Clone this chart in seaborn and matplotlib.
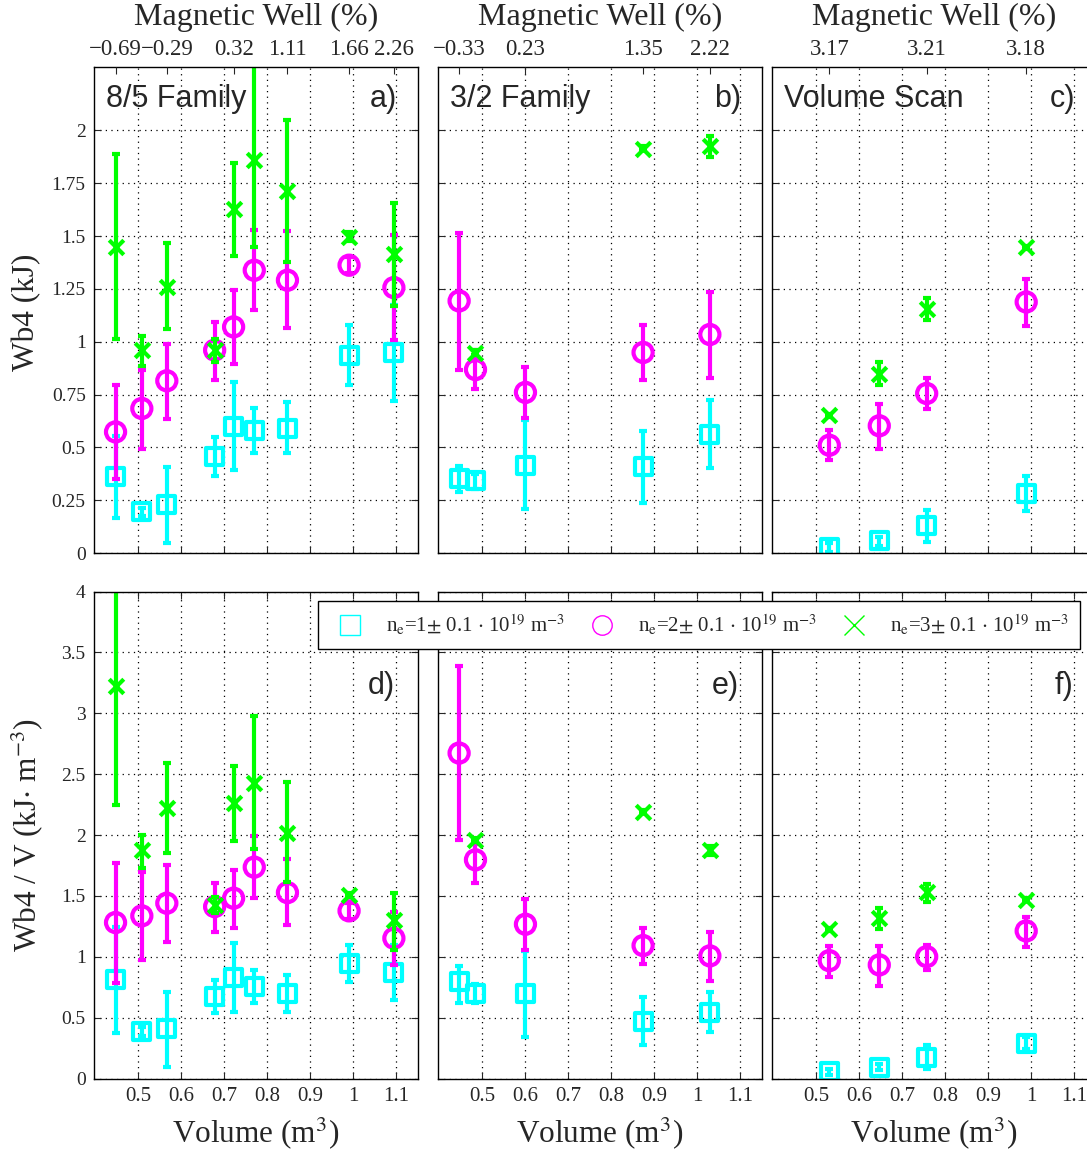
import numpy as np
import matplotlib
matplotlib.use("Agg")
import matplotlib.pyplot as plt
from matplotlib.lines import Line2D
import seaborn as sns

# ---------------- data ----------------
# plasma volumes (m^3) of each configuration
vol_85 = [0.448, 0.509, 0.567, 0.678, 0.722, 0.770, 0.847, 0.990, 1.094]
vol_32 = [0.447, 0.485, 0.601, 0.874, 1.029]
vol_scan = [0.531, 0.647, 0.757, 0.988]

# magnetic well (%) of the configurations, shown on the top axes
well_85_pos = [0.448, 0.567, 0.722, 0.847, 0.990, 1.094]
well_85_lab = ["\u22120.69", "\u22120.29", "0.32", "1.11", "1.66", "2.26"]
well_32_pos = [0.447, 0.601, 0.874, 1.029]
well_32_lab = ["\u22120.33", "0.23", "1.35", "2.22"]
well_scan_pos = [0.531, 0.757, 0.988]
well_scan_lab = ["3.17", "3.21", "3.18"]

nan = np.nan

# Wb4 (kJ): value, lower end, upper end of error bar
# 8/5 family
wb4_85_n1 = [0.360, 0.195, 0.229, 0.458, 0.597, 0.581, 0.589, 0.936, 0.947]
wb4_85_n1_lo = [0.168, 0.175, 0.048, 0.363, 0.395, 0.471, 0.471, 0.794, 0.720]
wb4_85_n1_hi = [0.552, 0.215, 0.405, 0.549, 0.810, 0.684, 0.715, 1.078, 1.175]
wb4_85_n2 = [0.573, 0.684, 0.815, 0.960, 1.070, 1.338, 1.291, 1.362, 1.256]
wb4_85_n2_lo = [0.352, 0.494, 0.633, 0.818, 0.894, 1.149, 1.067, 1.325, 1.007]
wb4_85_n2_hi = [0.794, 0.865, 0.991, 1.094, 1.244, 1.528, 1.524, 1.400, 1.504]
wb4_85_n3 = [1.449, 0.960, 1.259, 0.960, 1.627, 1.862, 1.714, 1.496, 1.417]
wb4_85_n3_lo = [1.015, 0.884, 1.058, 0.905, 1.405, 1.449, 1.375, 1.475, 1.168]
wb4_85_n3_hi = [1.887, 1.026, 1.465, 1.015, 1.846, 2.350, 2.048, 1.520, 1.657]
# 3/2 family
wb4_32_n1 = [0.352, 0.341, 0.416, 0.411, 0.562]
wb4_32_n1_lo = [0.290, 0.305, 0.210, 0.237, 0.400]
wb4_32_n1_hi = [0.411, 0.375, 0.628, 0.578, 0.726]
wb4_32_n2 = [1.193, 0.868, 0.760, 0.949, 1.034]
wb4_32_n2_lo = [0.868, 0.774, 0.637, 0.818, 0.826]
wb4_32_n2_hi = [1.515, 0.960, 0.878, 1.078, 1.236]
wb4_32_n3 = [nan, 0.947, nan, 1.914, 1.925]
wb4_32_n3_lo = [nan, 0.935, nan, 1.905, 1.875]
wb4_32_n3_hi = [nan, 0.960, nan, 1.925, 1.975]
# volume scan
wb4_scan_n1 = [0.026, 0.057, 0.128, 0.282]
wb4_scan_n1_lo = [0.005, 0.035, 0.050, 0.199]
wb4_scan_n1_hi = [0.045, 0.075, 0.203, 0.363]
wb4_scan_n2 = [0.510, 0.602, 0.755, 1.188]
wb4_scan_n2_lo = [0.439, 0.494, 0.681, 1.075]
wb4_scan_n2_hi = [0.581, 0.707, 0.826, 1.299]
wb4_scan_n3 = [0.652, 0.849, 1.157, 1.446]
wb4_scan_n3_lo = [0.645, 0.794, 1.102, 1.440]
wb4_scan_n3_hi = [0.660, 0.905, 1.209, 1.455]

# Wb4 / V (kJ m^-3)
# 8/5 family
wbv_85_n1 = [0.810, 0.385, 0.412, 0.673, 0.832, 0.755, 0.700, 0.947, 0.870]
wbv_85_n1_lo = [0.377, 0.345, 0.097, 0.536, 0.549, 0.618, 0.549, 0.796, 0.645]
wbv_85_n1_hi = [1.243, 0.425, 0.714, 0.810, 1.111, 0.892, 0.851, 1.097, 1.095]
wbv_85_n2 = [1.281, 1.336, 1.440, 1.412, 1.481, 1.736, 1.527, 1.377, 1.152]
wbv_85_n2_lo = [0.788, 0.974, 1.125, 1.207, 1.234, 1.481, 1.262, 1.310, 0.933]
wbv_85_n2_hi = [1.774, 1.700, 1.755, 1.604, 1.714, 1.988, 1.801, 1.440, 1.371]
wbv_85_n3 = [3.226, 1.873, 2.221, 1.426, 2.262, 2.426, 2.015, 1.508, 1.303]
wbv_85_n3_lo = [2.248, 1.727, 1.856, 1.360, 1.947, 1.884, 1.618, 1.490, 1.056]
wbv_85_n3_hi = [4.200, 2.000, 2.590, 1.490, 2.563, 2.979, 2.432, 1.525, 1.527]
# 3/2 family
wbv_32_n1 = [0.796, 0.700, 0.700, 0.467, 0.544]
wbv_32_n1_lo = [0.623, 0.620, 0.344, 0.275, 0.385]
wbv_32_n1_hi = [0.925, 0.780, 1.051, 0.667, 0.714]
wbv_32_n2 = [2.673, 1.796, 1.267, 1.092, 1.007]
wbv_32_n2_lo = [1.960, 1.604, 1.056, 0.941, 0.804]
wbv_32_n2_hi = [3.390, 1.930, 1.473, 1.234, 1.207]
wbv_32_n3 = [nan, 1.960, nan, 2.193, 1.873]
wbv_32_n3_lo = [nan, 1.945, nan, 2.180, 1.835]
wbv_32_n3_hi = [nan, 1.975, nan, 2.205, 1.910]
# volume scan
wbv_scan_n1 = [0.056, 0.092, 0.174, 0.289]
wbv_scan_n1_lo = [0.030, 0.070, 0.075, 0.240]
wbv_scan_n1_hi = [0.080, 0.115, 0.275, 0.340]
wbv_scan_n2 = [0.968, 0.933, 1.001, 1.212]
wbv_scan_n2_lo = [0.837, 0.760, 0.892, 1.084]
wbv_scan_n2_hi = [1.092, 1.089, 1.097, 1.325]
wbv_scan_n3 = [1.226, 1.316, 1.530, 1.467]
wbv_scan_n3_lo = [1.215, 1.226, 1.453, 1.455]
wbv_scan_n3_hi = [1.240, 1.399, 1.599, 1.480]

density_labels = [
    r"n$_\mathrm{e}$=1$\pm$ 0.1 $\cdot$ 10$^{19}$ m$^{-3}$",
    r"n$_\mathrm{e}$=2$\pm$ 0.1 $\cdot$ 10$^{19}$ m$^{-3}$",
    r"n$_\mathrm{e}$=3$\pm$ 0.1 $\cdot$ 10$^{19}$ m$^{-3}$",
]
vol_ticks = [0.5, 0.6, 0.7, 0.8, 0.9, 1.0, 1.1]
vol_ticklabels = ["0.5", "0.6", "0.7", "0.8", "0.9", "1", "1.1"]
wb4_ticks = [0, 0.25, 0.5, 0.75, 1, 1.25, 1.5, 1.75, 2]
wb4_ticklabels = ["0", "0.25", "0.5", "0.75", "1", "1.25", "1.5", "1.75", "2"]
wbv_ticks = [0, 0.5, 1, 1.5, 2, 2.5, 3, 3.5, 4]
wbv_ticklabels = ["0", "0.5", "1", "1.5", "2", "2.5", "3", "3.5", "4"]

# ---------------- style ----------------
sns.set_style("white")
plt.rcParams["font.family"] = ["Liberation Serif", "DejaVu Serif"]
plt.rcParams["mathtext.fontset"] = "stix"
plt.rcParams["axes.edgecolor"] = "black"
plt.rcParams["axes.linewidth"] = 1.0

CYAN, MAGENTA, GREEN = "#00FFFF", "#FF00FF", "#00FF00"
series_style = [(CYAN, "s", 150), (MAGENTA, "o", 190), (GREEN, "x", 110)]

W, H = 1087, 1154
fig = plt.figure(figsize=(W / 100, H / 100), dpi=100)


def rect(left, top, width, height):
    return [left / W, 1 - (top + height) / H, width / W, height / H]


lefts = [94, 438, 772]
panel_w = 324
top_row = [fig.add_axes(rect(l, 67, panel_w, 486)) for l in lefts]
bot_row = [fig.add_axes(rect(l, 591.5, panel_w, 487)) for l in lefts]


def draw_series(ax, x, v, lo, hi, color, marker, size, z):
    x = np.asarray(x, float)
    v = np.asarray(v, float)
    lo = np.asarray(lo, float)
    hi = np.asarray(hi, float)
    ax.errorbar(x, v, yerr=[v - lo, hi - v], fmt="none", ecolor=color,
                elinewidth=3, capsize=3, capthick=3, zorder=z)
    if marker == "x":
        sns.scatterplot(x=x, y=v, ax=ax, marker="x", s=size, color=color,
                        edgecolor=color, linewidth=3, zorder=z + 0.05)
    else:
        sns.scatterplot(x=x, y=v, ax=ax, marker=marker, s=size, color=color,
                        facecolor="none", edgecolor=color, linewidth=3,
                        zorder=z + 0.05)


top_data = [
    (vol_85, [(wb4_85_n1, wb4_85_n1_lo, wb4_85_n1_hi),
              (wb4_85_n2, wb4_85_n2_lo, wb4_85_n2_hi),
              (wb4_85_n3, wb4_85_n3_lo, wb4_85_n3_hi)]),
    (vol_32, [(wb4_32_n1, wb4_32_n1_lo, wb4_32_n1_hi),
              (wb4_32_n2, wb4_32_n2_lo, wb4_32_n2_hi),
              (wb4_32_n3, wb4_32_n3_lo, wb4_32_n3_hi)]),
    (vol_scan, [(wb4_scan_n1, wb4_scan_n1_lo, wb4_scan_n1_hi),
                (wb4_scan_n2, wb4_scan_n2_lo, wb4_scan_n2_hi),
                (wb4_scan_n3, wb4_scan_n3_lo, wb4_scan_n3_hi)]),
]
bot_data = [
    (vol_85, [(wbv_85_n1, wbv_85_n1_lo, wbv_85_n1_hi),
              (wbv_85_n2, wbv_85_n2_lo, wbv_85_n2_hi),
              (wbv_85_n3, wbv_85_n3_lo, wbv_85_n3_hi)]),
    (vol_32, [(wbv_32_n1, wbv_32_n1_lo, wbv_32_n1_hi),
              (wbv_32_n2, wbv_32_n2_lo, wbv_32_n2_hi),
              (wbv_32_n3, wbv_32_n3_lo, wbv_32_n3_hi)]),
    (vol_scan, [(wbv_scan_n1, wbv_scan_n1_lo, wbv_scan_n1_hi),
                (wbv_scan_n2, wbv_scan_n2_lo, wbv_scan_n2_hi),
                (wbv_scan_n3, wbv_scan_n3_lo, wbv_scan_n3_hi)]),
]
wells = [(well_85_pos, well_85_lab), (well_32_pos, well_32_lab),
         (well_scan_pos, well_scan_lab)]
family_names = ["8/5 Family", "3/2 Family", "Volume Scan"]
top_tags = ["a)", "b)", "c)"]
bot_tags = ["d)", "e)", "f)"]

XLIM = (0.398, 1.150)


def style_axes(ax, ylim, yticks, yticklabels, show_ylabels, show_xlabels):
    ax.set_xlim(*XLIM)
    ax.set_ylim(*ylim)
    ax.set_xticks(vol_ticks)
    ax.set_yticks(yticks)
    if show_xlabels:
        ax.set_xticklabels(vol_ticklabels, fontsize=15)
    else:
        ax.set_xticklabels([])
    if show_ylabels:
        ax.set_yticklabels(yticklabels, fontsize=14)
    else:
        ax.set_yticklabels([])
    ax.grid(True, linestyle=(0, (1, 3.5)), color="black", linewidth=0.9)
    ax.set_axisbelow(True)
    ax.tick_params(direction="in", length=5, width=0.8, left=True,
                   right=True, bottom=True, top=True, pad=6)
    for sp in ax.spines.values():
        sp.set_visible(True)
        sp.set_color("black")
        sp.set_linewidth(1.0)


for i, ax in enumerate(top_row):
    vol, series = top_data[i]
    for k, (v, lo, hi) in enumerate(series):
        c, m, s = series_style[k]
        draw_series(ax, vol, v, lo, hi, c, m, s, 2 + 0.2 * k)
    style_axes(ax, (0, 2.3), wb4_ticks, wb4_ticklabels, i == 0, False)
    ax.tick_params(top=False)
    ax.text(0.037, 0.934, family_names[i], transform=ax.transAxes,
            fontsize=22, family="Liberation Sans", va="center", ha="left")
    ax.text(0.935, 0.934, top_tags[i], transform=ax.transAxes,
            fontsize=22, family="Liberation Sans", va="center", ha="right")
    # magnetic well axis on top
    twin = ax.twiny()
    twin.set_xlim(*XLIM)
    pos, lab = wells[i]
    twin.set_xticks(pos)
    twin.set_xticklabels(lab, fontsize=16.5)
    twin.tick_params(direction="in", length=5, width=0.8, pad=5)
    twin.grid(False)
    for sp in twin.spines.values():
        sp.set_visible(False)

for i, ax in enumerate(bot_row):
    vol, series = bot_data[i]
    for k, (v, lo, hi) in enumerate(series):
        c, m, s = series_style[k]
        draw_series(ax, vol, v, lo, hi, c, m, s, 2 + 0.2 * k)
    style_axes(ax, (0, 4), wbv_ticks, wbv_ticklabels, i == 0, True)
    ax.text(0.930, 0.806, bot_tags[i], transform=ax.transAxes,
            fontsize=22, family="Liberation Sans", va="center", ha="right")

# axis titles
for l in lefts:
    fig.text((l + panel_w / 2) / W, 1 - 17 / H, "Magnetic Well (%)",
             fontsize=23, ha="center", va="center")
    fig.text((l + panel_w / 2) / W, 1 - 1133 / H, r"Volume (m$^3$)",
             fontsize=22.5, ha="center", va="center")
fig.text(27 / W, 1 - 312 / H, "Wb4 (kJ)", fontsize=22.5, rotation=90,
         ha="center", va="center")
fig.text(27 / W, 1 - 835 / H, r"Wb4 / V (kJ$\cdot$ m$^{-3}$)", fontsize=22.5,
         rotation=90, ha="center", va="center")

# legend across the lower panels
handles = [Line2D([], [], linestyle="none", marker=m, markersize=14,
                  markerfacecolor="none", markeredgecolor=c,
                  markeredgewidth=1.0, color=c)
           for c, m, _ in series_style]
leg = fig.legend(handles, density_labels, loc="center",
                 bbox_to_anchor=(699 / W, 1 - 625 / H), ncol=3, fontsize=15,
                 frameon=True, fancybox=False, edgecolor="black",
                 framealpha=1, handlelength=2.0, handletextpad=0.7,
                 columnspacing=0.8, borderpad=0.55)
leg.get_frame().set_linewidth(1.0)

fig.savefig("out.png", dpi=100)
